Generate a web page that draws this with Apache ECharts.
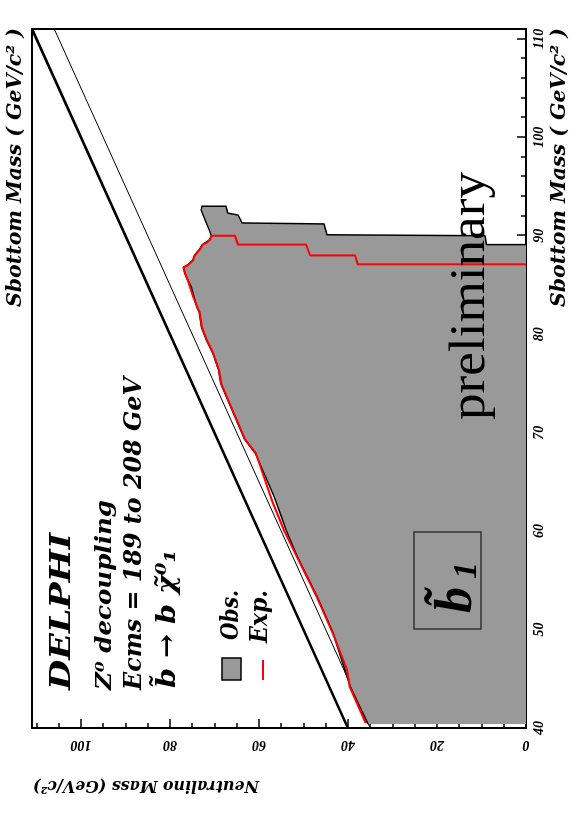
<!DOCTYPE html>
<html>
<head>
<meta charset="utf-8">
<script src="https://cdn.jsdelivr.net/npm/echarts@6/dist/echarts.min.js"></script>
<style>
  html, body { margin: 0; padding: 0; width: 573px; height: 817px; overflow: hidden; background: #fff; }
  /* the plot is laid out landscape and turned a quarter turn counter-clockwise */
  #chart { position: absolute; left: 0; top: 0; width: 817px; height: 573px;
           transform-origin: 0 0; transform: translate(0px, 817px) rotate(-90deg); }
</style>
</head>
<body>
<div id="chart"></div>
<script>
// Axis ranges and ticks (GeV/c^2)
const sbottomRange = [40, 111];
const sbottomMajor = 10, sbottomMinor = 2;
const neutralinoRange = [0, 111];
const neutralinoMajor = 20, neutralinoMinor = 5;

// Kinematic limits: m(neutralino) = m(sbottom), and m(neutralino) = m(sbottom) - m(b)
const limitEqSbottom = [40, 111];
const limitEqNeutralino = [40, 111];
const limitMbSbottom = [40, 111];
const limitMbNeutralino = [35, 106];

// Observed excluded region (closed contour, starts and ends on m(neutralino) = 0)
const obsSbottom = [40.4, 40.4, 44.2, 49.6, 53.3, 57.4, 60.1, 61.5, 63.5, 67.9, 69.3, 75.0, 76.4, 78.1, 79.4,
  80.7, 82.2, 82.8, 83.8, 84.8, 85.5, 86.2, 86.8, 87.0, 87.5, 88.0, 88.6, 89.1, 89.6, 90.0, 90.6, 91.6, 92.6,
  93.0, 93.0, 92.3, 92.1, 91.3, 91.2, 90.1, 90.0, 89.1, 89.1];
const obsNeutralino = [0, 35.5, 39.5, 43.3, 46.9, 51.4, 53.9, 55.0, 56.6, 60.8, 63.2, 68.6, 69.1, 70.4, 71.8,
  72.9, 73.4, 74.0, 74.6, 75.2, 76.0, 76.7, 77.0, 76.1, 74.9, 74.5, 73.4, 72.7, 71.1, 70.7, 71.2, 72.1, 73.0,
  72.8, 67.4, 67.0, 64.7, 63.8, 45.4, 44.7, 9.2, 8.9, 0];

// Expected limit contour
const expSbottom = [40.5, 44.2, 45.9, 49.6, 53.3, 57.4, 59.9, 62.9, 67.9, 69.3, 75.0, 76.4, 78.1, 79.4, 80.7,
  82.2, 82.8, 83.8, 84.8, 85.5, 86.2, 86.8, 87.0, 87.5, 88.0, 88.6, 89.1, 89.3, 89.6, 90.0, 90.0, 89.1, 89.1,
  88.0, 88.0, 87.1, 87.1];
const expNeutralino = [36.0, 39.6, 40.2, 43.4, 47.0, 51.5, 54.2, 56.9, 60.7, 63.1, 68.5, 69.0, 70.3, 71.7, 72.8,
  73.3, 73.9, 74.8, 75.5, 76.0, 76.6, 76.9, 76.0, 74.8, 74.4, 73.3, 72.6, 71.7, 71.0, 70.6, 65.4, 64.7, 49.4,
  48.5, 38.4, 37.8, 0];

const pairs = (xs, ys) => xs.map((x, i) => [x, ys[i]]);

const BI = '"DejaVu Serif", "Liberation Serif", serif';
const tickFont = { fontFamily: '"Liberation Serif", serif', fontStyle: 'italic', fontWeight: 'bold', fontSize: 14, color: '#000' };

// stretch a text horizontally so it spans a given width
const measureCtx = document.createElement('canvas').getContext('2d');
function stretch(text, font, width) {
  measureCtx.font = font;
  return width / measureCtx.measureText(text).width;
}
function text(str, font, x, y, width, opts) {
  const o = opts || {};
  const align = o.align || 'left';
  return {
    type: 'text', x: x, y: y, z: 100, rotation: o.rotation || 0,
    scaleX: width ? stretch(str, font, width) : 1,
    style: { text: str, font: font, fill: '#000', align: align, verticalAlign: 'middle',
             textAlign: align, textVerticalAlign: 'middle' }
  };
}

const chart = echarts.init(document.getElementById('chart'), null, { renderer: 'canvas' });

const majorTick = { inside: true, length: 9, lineStyle: { color: '#000', width: 1.5 } };
const minorTick = { inside: true, length: 5, lineStyle: { color: '#000', width: 1.5 } };

chart.setOption({
  animation: false,
  backgroundColor: '#fff',
  grid: { left: 89, right: 29, top: 32, bottom: 47, show: true, borderColor: '#000', borderWidth: 2,
          containLabel: false, outerBoundsMode: 'none' },
  xAxis: [
    { type: 'value', min: sbottomRange[0], max: sbottomRange[1], interval: sbottomMajor, position: 'bottom',
      axisLine: { show: true, onZero: false, lineStyle: { color: '#000', width: 2 } },
      axisTick: majorTick, splitLine: { show: false },
      axisLabel: Object.assign({ margin: 6, showMaxLabel: false }, tickFont) },
    { type: 'value', min: sbottomRange[0], max: sbottomRange[1], interval: sbottomMinor, position: 'bottom',
      axisLine: { show: false }, axisTick: minorTick, splitLine: { show: false }, axisLabel: { show: false } }
  ],
  yAxis: [
    { type: 'value', min: neutralinoRange[0], max: neutralinoRange[1], interval: neutralinoMajor, position: 'left',
      axisLine: { show: true, onZero: false, lineStyle: { color: '#000', width: 2 } },
      axisTick: majorTick, splitLine: { show: false },
      axisLabel: Object.assign({ margin: 10, rotate: 90, showMaxLabel: false }, tickFont) },
    { type: 'value', min: neutralinoRange[0], max: neutralinoRange[1], interval: neutralinoMinor, position: 'left',
      axisLine: { show: false }, axisTick: minorTick, splitLine: { show: false }, axisLabel: { show: false } }
  ],
  series: [
    { type: 'line', name: 'mb', data: pairs(limitMbSbottom, limitMbNeutralino), showSymbol: false, z: 1,
      lineStyle: { color: '#000', width: 1 }, silent: true },
    { type: 'line', name: 'eq', data: pairs(limitEqSbottom, limitEqNeutralino), showSymbol: false, z: 3,
      lineStyle: { color: '#000', width: 2.5 }, silent: true },
    { type: 'custom', name: 'Obs.', z: 2, clip: true, silent: true,
      data: pairs(obsSbottom, obsNeutralino),
      renderItem: function (params, api) {
        if (params.dataIndex !== 0) return null;
        const pts = obsSbottom.map((x, i) => api.coord([x, obsNeutralino[i]]));
        return { type: 'polygon', shape: { points: pts }, style: { fill: '#999999', stroke: null } };
      } },
    { type: 'line', name: 'Obs. contour', data: pairs(obsSbottom.slice(1), obsNeutralino.slice(1)),
      showSymbol: false, z: 4, lineStyle: { color: '#000', width: 1.5 }, silent: true },
    { type: 'line', name: 'Exp.', data: pairs(expSbottom, expNeutralino), showSymbol: false, z: 5,
      lineStyle: { color: '#ff0000', width: 2 }, silent: true }
  ],
  graphic: [
    // axis titles
    text('Sbottom Mass ( GeV/c² )', 'italic bold 20px ' + BI, 789, 560, 279, { align: 'right' }),
    text('Sbottom Mass ( GeV/c² )', 'italic bold 20px ' + BI, 789, 16, 279, { align: 'right' }),
    text('Neutralino Mass (GeV/c²)', 'italic bold 17px ' + BI, 32, 146, 226, { align: 'center', rotation: Math.PI / 2 }),
    // caption
    text('DELPHI', 'italic bold 27px ' + BI, 127, 63, 157),
    text('Z⁰ decoupling', 'italic bold 22px ' + BI, 127, 105, 190),
    text('Ecms = 189 to 208 GeV', 'italic bold 24px ' + BI, 127, 135, 313),
    text('b̃ → b χ̃⁰₁', 'italic bold 26px ' + BI, 129, 168, 138),
    // legend
    { type: 'rect', z: 100, shape: { x: 137, y: 222, width: 22, height: 19 },
      style: { fill: '#999999', stroke: '#000', lineWidth: 1.5 } },
    text('Obs.', 'italic bold 24px ' + BI, 177, 232, 50),
    { type: 'line', z: 100, shape: { x1: 137, y1: 263, x2: 157, y2: 263 }, style: { stroke: '#ff0000', lineWidth: 2 } },
    text('Exp.', 'italic bold 24px ' + BI, 174, 261, 53),
    // region label
    { type: 'rect', z: 100, shape: { x: 188, y: 414, width: 97, height: 67 },
      style: { fill: 'none', stroke: '#333', lineWidth: 1.5 } },
    text('b̃', 'italic bold 52px "Liberation Serif", serif', 204, 458, 0),
    text('1', 'italic bold 34px "Liberation Serif", serif', 238, 467, 0),
    text('preliminary', '50px "Liberation Serif", serif', 397, 471, 248)
  ]
});
</script>
</body>
</html>
